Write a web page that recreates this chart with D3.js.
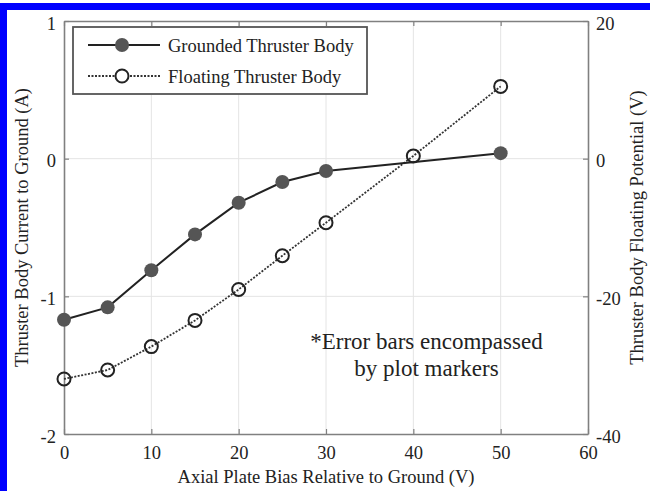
<!DOCTYPE html>
<html>
<head>
<meta charset="utf-8">
<script src="https://cdn.jsdelivr.net/npm/d3@7"></script>
<style>
  body { margin: 0; background: #fff; }
  svg text { font-family: "Liberation Serif", "Times New Roman", serif; fill: #222; }
</style>
</head>
<body>
<div id="chart"></div>
<script>
// Data
var biasVolts = [0, 5, 10, 15, 20, 25, 30, 50];
var groundedCurrent = [-1.17, -1.08, -0.81, -0.55, -0.32, -0.17, -0.09, 0.04];
var floatBias = [0, 5, 10, 15, 20, 25, 30, 40, 50];
var floatingPotential = [-32.0, -30.7, -27.3, -23.5, -19.0, -14.1, -9.3, 0.4, 10.5];
var xTicks = [0, 10, 20, 30, 40, 50, 60];
var leftTicks = [-2, -1, 0, 1];
var rightTicks = [-40, -20, 0, 20];

var svgWidth = 650;
var svgHeight = 491;
var margin = { top: 21, right: 62, bottom: 57, left: 64 };
var chartWidth = svgWidth - margin.left - margin.right;
var chartHeight = svgHeight - margin.top - margin.bottom;

var svg = d3.select("#chart")
    .append("svg")
    .attr("width", svgWidth)
    .attr("height", svgHeight);

// blue page border (top and left)
svg.append("rect").attr("x", 0).attr("y", 3).attr("width", svgWidth).attr("height", 7).attr("fill", "#0000ff");
svg.append("rect").attr("x", 0).attr("y", 3).attr("width", 7).attr("height", svgHeight).attr("fill", "#0000ff");

var chartGroup = svg.append("g")
    .attr("transform", `translate(${margin.left}, ${margin.top})`);

var xScale = d3.scaleLinear().domain([0, 60]).range([0, chartWidth]);
var yLeft = d3.scaleLinear().domain([-2, 1]).range([chartHeight, 0]);
var yRight = d3.scaleLinear().domain([-40, 20]).range([chartHeight, 0]);

// plain hyphen minus, no decimals
var fmt = d => String(d);

// grid
chartGroup.append("g")
    .selectAll("line")
    .data(xTicks.slice(1, -1))
    .join("line")
    .attr("x1", d => xScale(d)).attr("x2", d => xScale(d))
    .attr("y1", 0).attr("y2", chartHeight)
    .attr("stroke", "#e4e4e4").attr("stroke-width", 1);

chartGroup.append("g")
    .selectAll("line")
    .data(leftTicks.slice(1, -1))
    .join("line")
    .attr("x1", 0).attr("x2", chartWidth)
    .attr("y1", d => yLeft(d)).attr("y2", d => yLeft(d))
    .attr("stroke", "#e4e4e4").attr("stroke-width", 1);

// axes (ticks point inward)
function styleAxis(g) {
    g.select(".domain").attr("stroke", "#808080").attr("stroke-width", 1.6);
    g.selectAll(".tick line").attr("stroke", "#808080").attr("stroke-width", 1.2);
    g.selectAll(".tick text").attr("fill", "#222").style("font-size", "18.5px")
        .style("font-family", "'Liberation Serif', serif");
}

chartGroup.append("g")
    .attr("transform", `translate(0, ${chartHeight})`)
    .call(d3.axisBottom(xScale).tickValues(xTicks).tickFormat(fmt).tickSizeInner(-5).tickSizeOuter(0).tickPadding(12))
    .call(styleAxis);

chartGroup.append("g")
    .call(d3.axisTop(xScale).tickValues(xTicks).tickSizeInner(-5).tickSizeOuter(0).tickFormat(""))
    .call(styleAxis);

chartGroup.append("g")
    .call(d3.axisLeft(yLeft).tickValues(leftTicks).tickFormat(fmt).tickSizeInner(-5).tickSizeOuter(0).tickPadding(8))
    .call(styleAxis)
    .selectAll(".tick text").attr("dy", "0.45em");

chartGroup.append("g")
    .attr("transform", `translate(${chartWidth}, 0)`)
    .call(d3.axisRight(yRight).tickValues(rightTicks).tickFormat(fmt).tickSizeInner(-5).tickSizeOuter(0).tickPadding(8))
    .call(styleAxis)
    .selectAll(".tick text").attr("dy", "0.45em");

// series lines
var groundedLine = d3.line()
    .x((d, i) => xScale(biasVolts[i]))
    .y(d => yLeft(d));

var floatingLine = d3.line()
    .x((d, i) => xScale(floatBias[i]))
    .y(d => yRight(d));

chartGroup.append("path")
    .datum(floatingPotential)
    .attr("d", floatingLine)
    .attr("fill", "none")
    .attr("stroke", "#333")
    .attr("stroke-width", 1.8)
    .attr("stroke-dasharray", "2,1.5");

chartGroup.append("path")
    .datum(groundedCurrent)
    .attr("d", groundedLine)
    .attr("fill", "none")
    .attr("stroke", "#222")
    .attr("stroke-width", 2);

chartGroup.append("g")
    .selectAll("circle")
    .data(floatingPotential)
    .join("circle")
    .attr("cx", (d, i) => xScale(floatBias[i]))
    .attr("cy", d => yRight(d))
    .attr("r", 6.5)
    .attr("fill", "none")
    .attr("stroke", "#222")
    .attr("stroke-width", 2);

chartGroup.append("g")
    .selectAll("circle")
    .data(groundedCurrent)
    .join("circle")
    .attr("cx", (d, i) => xScale(biasVolts[i]))
    .attr("cy", d => yLeft(d))
    .attr("r", 7)
    .attr("fill", "#555");

// legend
var legend = chartGroup.append("g").attr("transform", "translate(9, 6)");
legend.append("rect")
    .attr("width", 294).attr("height", 67)
    .attr("fill", "#fff").attr("stroke", "#555").attr("stroke-width", 1.8);

legend.append("line").attr("x1", 15).attr("x2", 87).attr("y1", 18).attr("y2", 18)
    .attr("stroke", "#222").attr("stroke-width", 2);
legend.append("circle").attr("cx", 49).attr("cy", 18).attr("r", 7).attr("fill", "#555");
legend.append("text").attr("x", 95).attr("y", 24.5).style("font-size", "18.5px").text("Grounded Thruster Body");

legend.append("line").attr("x1", 15).attr("x2", 87).attr("y1", 49).attr("y2", 49)
    .attr("stroke", "#333").attr("stroke-width", 1.8).attr("stroke-dasharray", "2,1.5");
legend.append("circle").attr("cx", 49).attr("cy", 49).attr("r", 6.5)
    .attr("fill", "#fff").attr("stroke", "#222").attr("stroke-width", 2);
legend.append("text").attr("x", 95).attr("y", 55.5).style("font-size", "18.5px").text("Floating Thruster Body");

// annotation
chartGroup.append("text")
    .attr("x", xScale(41.5)).attr("y", 328)
    .attr("text-anchor", "middle").style("font-size", "23px")
    .text("*Error bars encompassed");
chartGroup.append("text")
    .attr("x", xScale(41.5)).attr("y", 355)
    .attr("text-anchor", "middle").style("font-size", "23px")
    .text("by plot markers");

// axis titles
svg.append("text")
    .attr("x", margin.left + chartWidth / 2).attr("y", 483)
    .attr("text-anchor", "middle").style("font-size", "18.5px")
    .text("Axial Plate Bias Relative to Ground (V)");

svg.append("text")
    .attr("transform", `translate(28, ${margin.top + chartHeight / 2}) rotate(-90)`)
    .attr("text-anchor", "middle").style("font-size", "18.5px")
    .text("Thruster Body Current to Ground (A)");

svg.append("text")
    .attr("transform", `translate(643, ${margin.top + chartHeight / 2}) rotate(-90)`)
    .attr("text-anchor", "middle").style("font-size", "18.5px")
    .text("Thruster Body Floating Potential (V)");
</script>
</body>
</html>
